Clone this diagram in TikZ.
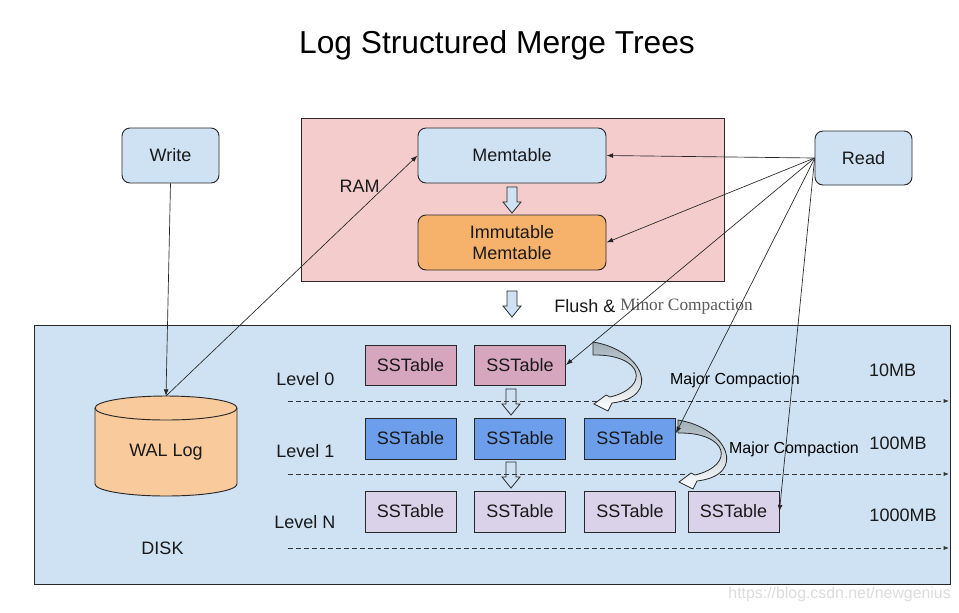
\documentclass[tikz,border=0pt]{standalone}
\usepackage{fontspec}
\setmainfont{Liberation Sans}
\newfontfamily\serifmc{Liberation Serif}
\usetikzlibrary{arrows.meta}
\definecolor{lblue}{RGB}{207,226,243}
\definecolor{rampink}{RGB}{244,204,204}
\definecolor{immorange}{RGB}{246,178,107}
\definecolor{walorange}{RGB}{249,203,156}
\definecolor{sszero}{RGB}{213,166,189}
\definecolor{ssone}{RGB}{109,158,235}
\definecolor{sstwo}{RGB}{217,210,233}
\definecolor{edge}{RGB}{40,40,40}
\definecolor{curvegray}{RGB}{160,174,184}
\definecolor{wmark}{RGB}{220,220,220}
\begin{document}
\begin{tikzpicture}[x=0.75pt,y=-0.75pt,
  txt/.style={font=\fontsize{13.5}{16}\selectfont, text=black!90},
  rbox/.style={txt, draw=edge, line width=0.7pt, rounded corners=6pt, inner sep=0pt},
  area/.style={draw=edge, line width=0.7pt, inner sep=0pt},
  sst/.style={txt, draw=edge, line width=0.6pt, inner sep=0pt, minimum width=91*0.75pt, minimum height=41*0.75pt},
  conn/.style={line width=0.5pt, draw=black!85, -{Latex[length=5pt,width=3.6pt]}},
  lvl/.style={draw=black!80, line width=0.5pt, dashed, dash pattern=on 3.5pt off 2.5pt, -{Latex[length=4pt,width=3pt]}},
  downarrow/.pic={\draw[fill=lblue, draw=edge, line width=0.6pt, line join=miter]
      (-5,0) -- (5,0) -- (5,15) -- (9,15) -- (0,26) -- (-9,15) -- (-5,15) -- cycle;},
  majorarrow/.pic={\draw[top color=curvegray, bottom color=white, draw=edge, line width=0.6pt, line join=miter]
      (0,0) .. controls (50,8) and (70,55) .. (19,61) -- (15,69) -- (1,62) -- (13,53) -- (17,55)
      .. controls (58,45) and (50,12) .. (0,13) -- cycle;}
]
\useasboundingbox (0,0) rectangle (959,612);
\fill[white] (0,0) rectangle (959,612);

% title
\node[font=\fontsize{23.8}{28}\selectfont] (title) at (497,45) {Log Structured Merge Trees};

% areas
\node[area, fill=rampink, minimum width=423*0.75pt, minimum height=163*0.75pt] (ram) at (512.5,199.5) {};
\node[area, fill=lblue, minimum width=916*0.75pt, minimum height=259*0.75pt] (disk) at (492,454.5) {};

% boxes
\node[rbox, fill=lblue, minimum width=97*0.75pt, minimum height=55*0.75pt] (write) at (170.5,155.5) {Write};
\node[rbox, fill=lblue, minimum width=97*0.75pt, minimum height=54*0.75pt] (read) at (863.5,158) {Read};
\node[rbox, fill=lblue, minimum width=188*0.75pt, minimum height=55*0.75pt] (mem) at (512,155.5) {Memtable};
\node[rbox, fill=immorange, minimum width=188*0.75pt, minimum height=55*0.75pt, align=center,
      font=\fontsize{13.5}{15.75}\selectfont] (imm) at (512,242.5) {Immutable\\Memtable};

\node[txt] (ramlbl) at (359.5,186) {RAM};
\node[txt] (disklbl) at (162.5,548) {DISK};

% WAL cylinder
\draw[fill=walorange, draw=edge, line width=0.7pt]
  (95,408) -- (95,484) arc[start angle=180, end angle=360, x radius=53.25pt, y radius=9pt]
  -- (237,408) arc[start angle=0, end angle=180, x radius=53.25pt, y radius=9pt] -- cycle;
\draw[draw=edge, line width=0.7pt] (95,408) arc[start angle=180, end angle=360, x radius=53.25pt, y radius=9pt];
\node[txt] (wal) at (166,452) {WAL Log};
\coordinate (waltop) at (166,396);

% small arrows
\pic at (512,187) {downarrow};
\pic at (512,291) {downarrow};
\pic at (511,389) {downarrow};
\pic at (511,462) {downarrow};

\node[txt, anchor=west, inner sep=0pt] (flush) at (554,306) {Flush \&};
\node[anchor=west, inner sep=0pt, font=\serifmc\fontsize{13}{15}\selectfont, text=black!65] (minor) at (620,307) {Minor Compaction};

% levels
\node[txt, anchor=west, inner sep=0pt] (l0) at (276,379) {Level 0};
\node[txt, anchor=west, inner sep=0pt] (l1) at (276,451) {Level 1};
\node[txt, anchor=west, inner sep=0pt] (ln) at (274,522) {Level N};

\node[sst, fill=sszero, minimum height=40*0.75pt] (ss00) at (410.5,365) {SSTable};
\node[sst, fill=sszero, minimum height=40*0.75pt] (ss01) at (520,365) {SSTable};
\node[sst, fill=ssone] (ss10) at (410.5,438.5) {SSTable};
\node[sst, fill=ssone] (ss11) at (520,438.5) {SSTable};
\node[sst, fill=ssone] (ss12) at (630,438.5) {SSTable};
\node[sst, fill=sstwo] (ss20) at (410.5,511.5) {SSTable};
\node[sst, fill=sstwo] (ss21) at (520,511.5) {SSTable};
\node[sst, fill=sstwo] (ss22) at (630,511.5) {SSTable};
\node[sst, fill=sstwo] (ss23) at (733.5,511.5) {SSTable};

% dashed level separators
\coordinate (d0s) at (288,401); \coordinate (d0e) at (949,401);
\coordinate (d1s) at (288,474); \coordinate (d1e) at (949,474);
\coordinate (d2s) at (288,548); \coordinate (d2e) at (949,548);
\draw[lvl] (d0s) -- (d0e);
\draw[lvl] (d1s) -- (d1e);
\draw[lvl] (d2s) -- (d2e);

% major compaction arrows
\pic at (593,342) {majorarrow};
\pic at (678,420) {majorarrow};
\node[font=\fontsize{12}{14}\selectfont] (mc1) at (735,380) {Major Compaction};
\node[font=\fontsize{12}{14}\selectfont] (mc2) at (794,449) {Major Compaction};

\node[txt] (s0) at (892.5,370) {10MB};
\node[txt] (s1) at (898,443) {100MB};
\node[txt] (s2) at (903,515) {1000MB};

% connectors
\draw[conn] (write.south) -- (waltop);
\draw[conn] (waltop) -- (mem.west);
\draw[conn] (read.west) -- (mem.east);
\draw[conn] (read.west) -- (imm.east);
\draw[conn] (read.west) -- (ss01.east);
\draw[conn] ([yshift=-0.5pt]read.west) -- ([yshift=4pt]ss12.east);
\draw[conn] ([yshift=-1pt]read.west) -- (ss23.east);

% watermark
\node[anchor=east, inner sep=0pt, font=\fontsize{11.9}{14}\selectfont, text=wmark] (wm) at (951,594) {https://blog.csdn.net/newgenius};
\end{tikzpicture}
\end{document}
